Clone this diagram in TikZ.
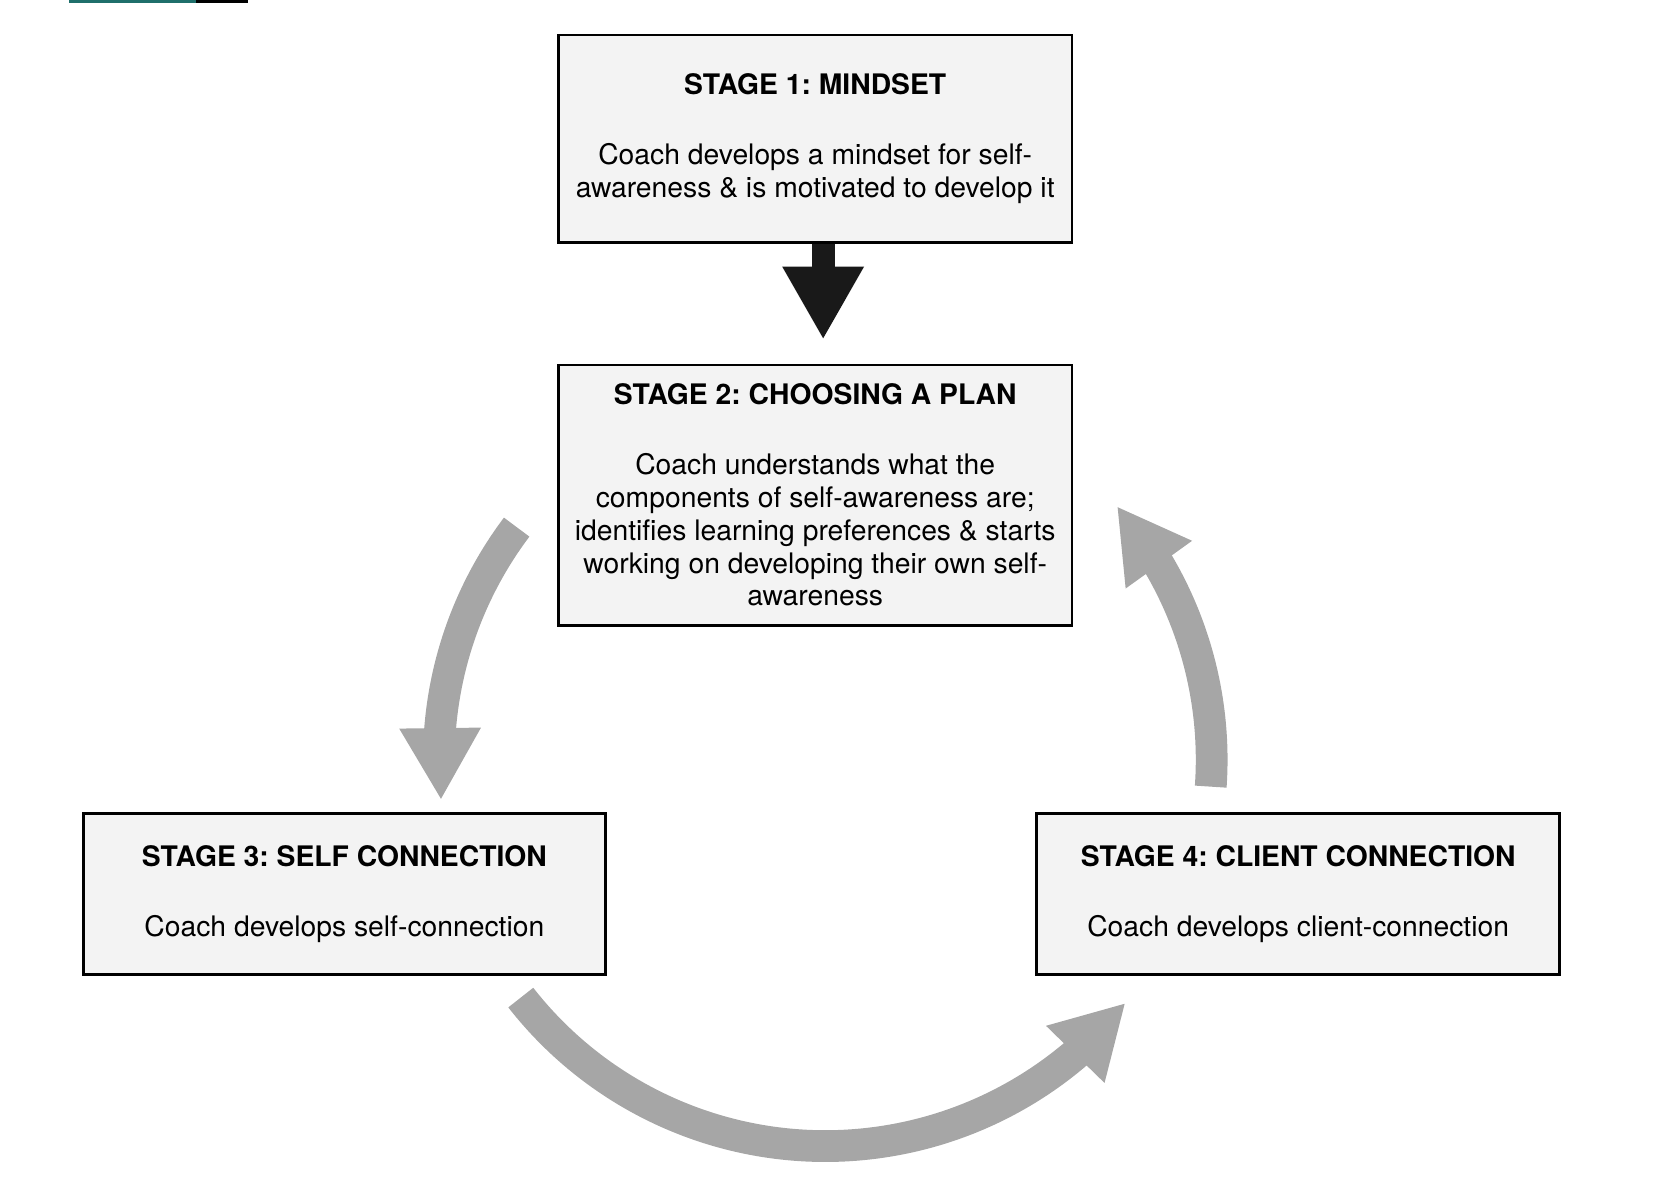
\documentclass[tikz,border=0pt]{standalone}
\usepackage{fontspec}
\setmainfont{TeX Gyre Heros}
\frenchspacing
\usetikzlibrary{arrows.meta,bending}

\definecolor{boxfill}{HTML}{F3F3F3}
\definecolor{cyclegray}{HTML}{A6A6A6}
\definecolor{tealbar}{HTML}{1F6F6B}

\tikzset{
  stage/.style={draw=black,fill=boxfill,line width=0.7pt,align=center,
    font=\fontsize{7.6}{8.8}\selectfont,inner sep=0pt},
  cycle/.style={cyclegray,line width=0.3cm,
    -{Triangle[width=0.72cm,length=0.68cm,flex]}},
}

\begin{document}
\begin{tikzpicture}[x=0.01cm,y=-0.01cm]
\useasboundingbox (0,0) rectangle (1568,1123);

% top rule
\draw[tealbar,line width=1pt] (65,1) -- (185,1);
\draw[black,line width=1pt] (185,1) -- (234,1);

% Stages
\node[stage,minimum width=4.85cm,minimum height=1.96cm] (s1) at (770.5,131)
  {\textbf{STAGE 1: MINDSET}\\[10pt]
   Coach develops a mindset for self-\\awareness \& is motivated to develop it};
\node[stage,minimum width=4.85cm,minimum height=2.46cm] (s2) at (770.5,468)
  {\textbf{STAGE 2: CHOOSING A PLAN}\\[10pt]
   Coach understands what the\\components of self-awareness are;\\
   identifies learning preferences \& starts\\working on developing their own self-\\awareness};
\node[stage,minimum width=4.93cm,minimum height=1.52cm] (s3) at (325.5,845)
  {\textbf{STAGE 3: SELF CONNECTION}\\[10pt]
   Coach develops self-connection};
\node[stage,minimum width=4.94cm,minimum height=1.52cm] (s4) at (1227,845)
  {\textbf{STAGE 4: CLIENT CONNECTION}\\[10pt]
   Coach develops client-connection};

% Mindset to plan
\coordinate (tip) at (778,321);
\draw[line width=0.22cm,black!90,-{Triangle[width=0.72cm,length=0.69cm]}]
  (s1.south -| tip) -- (tip);

% Cycle
\coordinate (hub) at (780,718);
\draw[cycle] ([shift={(143:3.65cm)}]hub) arc[start angle=143,end angle=186,radius=3.65cm];
\draw[cycle] ([shift={(218:3.65cm)}]hub) arc[start angle=218,end angle=321,radius=3.65cm];
\draw[cycle] ([shift={(356:3.65cm)}]hub) arc[start angle=356,end angle=401,radius=3.65cm];
\end{tikzpicture}
\end{document}
